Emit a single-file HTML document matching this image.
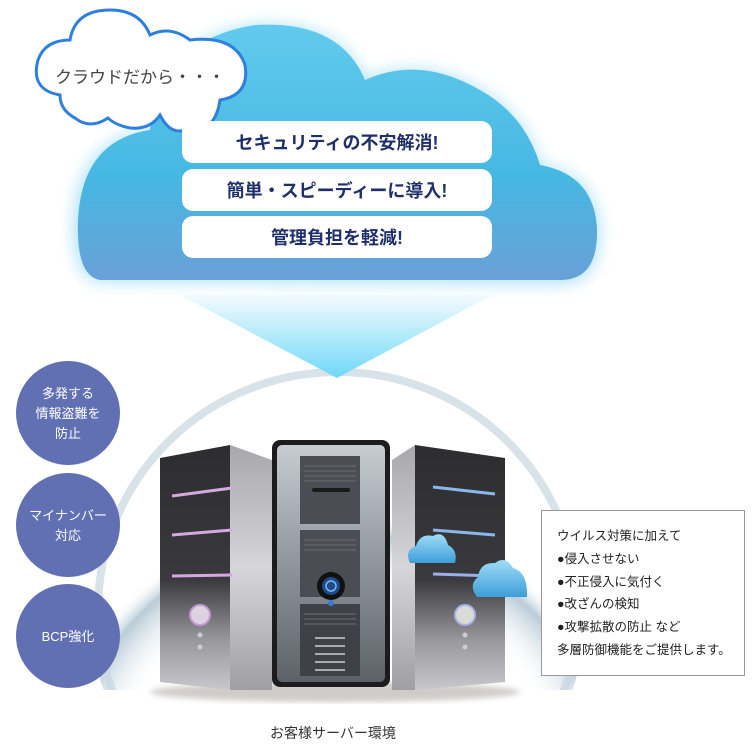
<!DOCTYPE html>
<html><head><meta charset="utf-8"><style>
html,body{margin:0;padding:0;background:#fff;width:756px;height:751px;overflow:hidden;}
body{position:relative;font-family:"Liberation Sans","Noto Sans CJK JP",sans-serif;}
.t{position:absolute;white-space:nowrap;}
</style></head><body>
<svg width="756" height="751" style="position:absolute;left:0;top:0">
<defs>
<linearGradient id="cl" x1="0" y1="0" x2="0" y2="1">
<stop offset="0" stop-color="#62caee"/><stop offset="0.6" stop-color="#45b8e2"/><stop offset="1" stop-color="#6aa0d8"/></linearGradient>
<linearGradient id="tri" x1="0" y1="0" x2="0" y2="1">
<stop offset="0" stop-color="#f4fbfe"/><stop offset="1" stop-color="#6fd8f8"/></linearGradient>
<filter id="glow" x="-20%" y="-20%" width="140%" height="140%"><feGaussianBlur stdDeviation="8"/></filter>
<filter id="b2"><feGaussianBlur stdDeviation="3"/></filter>
<radialGradient id="dome" cx="0.5" cy="0.9" r="0.6">
<stop offset="0.75" stop-color="#fff" stop-opacity="0"/><stop offset="0.93" stop-color="#b9ccd8"/><stop offset="1" stop-color="#fff" stop-opacity="0"/></radialGradient>
<linearGradient id="front" x1="0" y1="0" x2="0" y2="1">
<stop offset="0" stop-color="#2d2d30"/><stop offset="0.55" stop-color="#3a3a3e"/><stop offset="0.8" stop-color="#9a9a9e"/><stop offset="1" stop-color="#c8c8cc"/></linearGradient>
<linearGradient id="side" x1="0" y1="0" x2="0" y2="1">
<stop offset="0" stop-color="#a8a8ac"/><stop offset="0.5" stop-color="#d6d6da"/><stop offset="1" stop-color="#a0a0a4"/></linearGradient>
<linearGradient id="mid" x1="0" y1="0" x2="0" y2="1">
<stop offset="0" stop-color="#c6ccd2"/><stop offset="0.5" stop-color="#8f969e"/><stop offset="1" stop-color="#5c6268"/></linearGradient>
<linearGradient id="sc" x1="0" y1="0" x2="0" y2="1"><stop offset="0" stop-color="#9fdcf8"/><stop offset="1" stop-color="#3d9fd8"/></linearGradient>
</defs>
<!-- dome -->
<ellipse cx="338" cy="610" rx="248" ry="245" fill="url(#dome)"/>
<ellipse cx="338" cy="610" rx="240" ry="238" fill="none" stroke="#c7d6df" stroke-width="8" opacity="0.7"/>
<rect x="80" y="690" width="520" height="61" fill="#fff"/>
<!-- triangle -->
<polygon points="180,295 492,295 337,378" fill="url(#tri)"/>
<!-- big cloud glow + body -->
<g filter="url(#glow)" opacity="0.9">
<path d="M100,282 Q72,278 74,220 Q78,140 150,130 Q160,40 255,25 Q340,20 365,80 Q420,55 480,90 Q525,115 540,165 Q597,175 599,230 Q600,284 560,284 Z" fill="#a6e0f6"/>
</g>
<path d="M100,280 Q76,276 78,220 Q82,140 150,130 Q160,40 255,25 Q340,20 365,80 Q420,55 480,90 Q525,115 540,165 Q595,175 597,230 Q598,280 560,280 Z" fill="url(#cl)"/>
<!-- small cloud -->
<path d="M60,95 Q30,90 38,60 Q45,40 70,40 Q75,10 110,10 Q140,10 150,35 Q170,25 190,40 Q235,35 245,65 Q250,95 220,100 Q215,135 185,130 Q170,135 160,115 Q150,130 130,128 Q115,125 108,118 Q90,130 75,118 Q60,110 60,95 Z" fill="#fff" stroke="#2e80dc" stroke-width="3"/>
<!-- boxes -->
<rect x="182" y="121" width="310" height="42" rx="11" fill="#fff"/>
<rect x="182" y="169" width="310" height="42" rx="11" fill="#fff"/>
<rect x="182" y="216" width="310" height="42" rx="11" fill="#fff"/>
<!-- purple circles -->
<ellipse cx="68" cy="413" rx="52" ry="52" fill="#6170b2"/>
<ellipse cx="68" cy="525" rx="52" ry="52" fill="#6170b2"/>
<ellipse cx="68" cy="636" rx="52" ry="52" fill="#6170b2"/>
<!-- shadow -->
<ellipse cx="335" cy="692" rx="185" ry="10" fill="#8a7f78" opacity="0.4" filter="url(#b2)"/>
<!-- left tower -->
<polygon points="160,458 230,445 230,690 160,682" fill="url(#front)"/>
<polygon points="230,445 272,460 272,690 230,690" fill="url(#side)"/>
<line x1="172" y1="496" x2="232" y2="488" stroke="#d6a8e0" stroke-width="3"/>
<line x1="172" y1="535" x2="232" y2="530" stroke="#d6a8e0" stroke-width="3"/>
<line x1="172" y1="576" x2="232" y2="575" stroke="#d6a8e0" stroke-width="3"/>
<circle cx="200" cy="615" r="10" fill="#ddd3e0" stroke="#c59ad0" stroke-width="2"/>
<circle cx="200" cy="635" r="2.5" fill="#ccc"/><circle cx="200" cy="647" r="2.5" fill="#ccc"/>
<!-- right tower -->
<polygon points="392,460 415,445 415,690 392,690" fill="url(#side)"/>
<polygon points="415,445 505,458 505,682 415,690" fill="url(#front)"/>
<line x1="433" y1="487" x2="495" y2="494" stroke="#8ab8ec" stroke-width="3"/>
<line x1="433" y1="530" x2="495" y2="535" stroke="#8ab8ec" stroke-width="3"/>
<line x1="433" y1="574" x2="495" y2="576" stroke="#9ab0ec" stroke-width="3"/>
<circle cx="465" cy="615" r="10" fill="#d8dcd4" stroke="#a8b0e8" stroke-width="2"/>
<circle cx="465" cy="635" r="2.5" fill="#ccc"/><circle cx="465" cy="647" r="2.5" fill="#ccc"/>
<!-- center tower -->
<rect x="272" y="440" width="118" height="247" rx="8" fill="#1c1c1e"/>
<rect x="277" y="445" width="108" height="237" rx="5" fill="url(#mid)"/>
<rect x="300" y="456" width="60" height="68" fill="#4a4e54"/>
<rect x="300" y="530" width="60" height="67" fill="#4a4e54"/>
<rect x="300" y="604" width="60" height="72" fill="#3e4248"/>
<g stroke="#6a6e74" stroke-width="1">
<line x1="304" y1="466" x2="356" y2="466"/><line x1="304" y1="471" x2="356" y2="471"/><line x1="304" y1="476" x2="356" y2="476"/><line x1="304" y1="481" x2="356" y2="481"/>
<line x1="304" y1="540" x2="356" y2="540"/><line x1="304" y1="545" x2="356" y2="545"/><line x1="304" y1="550" x2="356" y2="550"/>
<line x1="304" y1="614" x2="356" y2="614"/><line x1="304" y1="619" x2="356" y2="619"/><line x1="304" y1="624" x2="356" y2="624"/>
</g>
<g stroke="#a8acb2" stroke-width="2">
<line x1="315" y1="638" x2="345" y2="638"/><line x1="315" y1="646" x2="345" y2="646"/><line x1="315" y1="654" x2="345" y2="654"/><line x1="315" y1="662" x2="345" y2="662"/><line x1="315" y1="670" x2="345" y2="670"/>
</g>
<rect x="312" y="488" width="38" height="4" rx="2" fill="#1a1a1a"/>
<circle cx="331" cy="586" r="14" fill="#111"/><circle cx="331" cy="586" r="9" fill="#1c4a8a"/>
<circle cx="331" cy="586" r="5" fill="none" stroke="#7ab8f0" stroke-width="1.5"/>
<circle cx="331" cy="603" r="3" fill="#3a7ad8"/>
<!-- small clouds -->
<path d="M410,563 Q404,550 416,546 Q420,533 433,536 Q444,530 448,545 Q458,550 455,563 Z" fill="url(#sc)"/>
<path d="M477,597 Q468,585 478,577 Q480,562 495,563 Q505,555 513,568 Q528,572 527,597 Z" fill="url(#sc)"/>
<!-- text box -->
<rect x="541.5" y="510.5" width="203" height="165" fill="#fff" stroke="#999" stroke-width="1"/>
</svg>
<div class="t" style="left:55px;top:63px;font-size:17px;color:#444;">クラウドだから・・・</div>
<div class="t" style="left:182px;top:129px;width:310px;text-align:center;font-size:18px;font-weight:bold;color:#1f2f6a;">セキュリティの不安解消!</div>
<div class="t" style="left:182px;top:177px;width:310px;text-align:center;font-size:18px;font-weight:bold;color:#1f2f6a;">簡単・スピーディーに導入!</div>
<div class="t" style="left:182px;top:224px;width:310px;text-align:center;font-size:18px;font-weight:bold;color:#1f2f6a;">管理負担を軽減!</div>
<div class="t" style="left:16px;top:384px;width:104px;text-align:center;font-size:13px;line-height:20px;color:#fff;">多発する<br>情報盗難を<br>防止</div>
<div class="t" style="left:16px;top:506px;width:104px;text-align:center;font-size:13px;line-height:20px;color:#fff;">マイナンバー<br>対応</div>
<div class="t" style="left:16px;top:627px;width:104px;text-align:center;font-size:13px;line-height:20px;color:#fff;">BCP強化</div>
<div class="t" style="left:557px;top:525px;font-size:12.5px;line-height:22.8px;color:#222;">ウイルス対策に加えて<br>●侵入させない<br>●不正侵入に気付く<br>●改ざんの検知<br>●攻撃拡散の防止 など<br>多層防御機能をご提供します。</div>
<div class="t" style="left:270px;top:724px;font-size:14px;line-height:18px;color:#333;">お客様サーバー環境</div>
</body></html>
